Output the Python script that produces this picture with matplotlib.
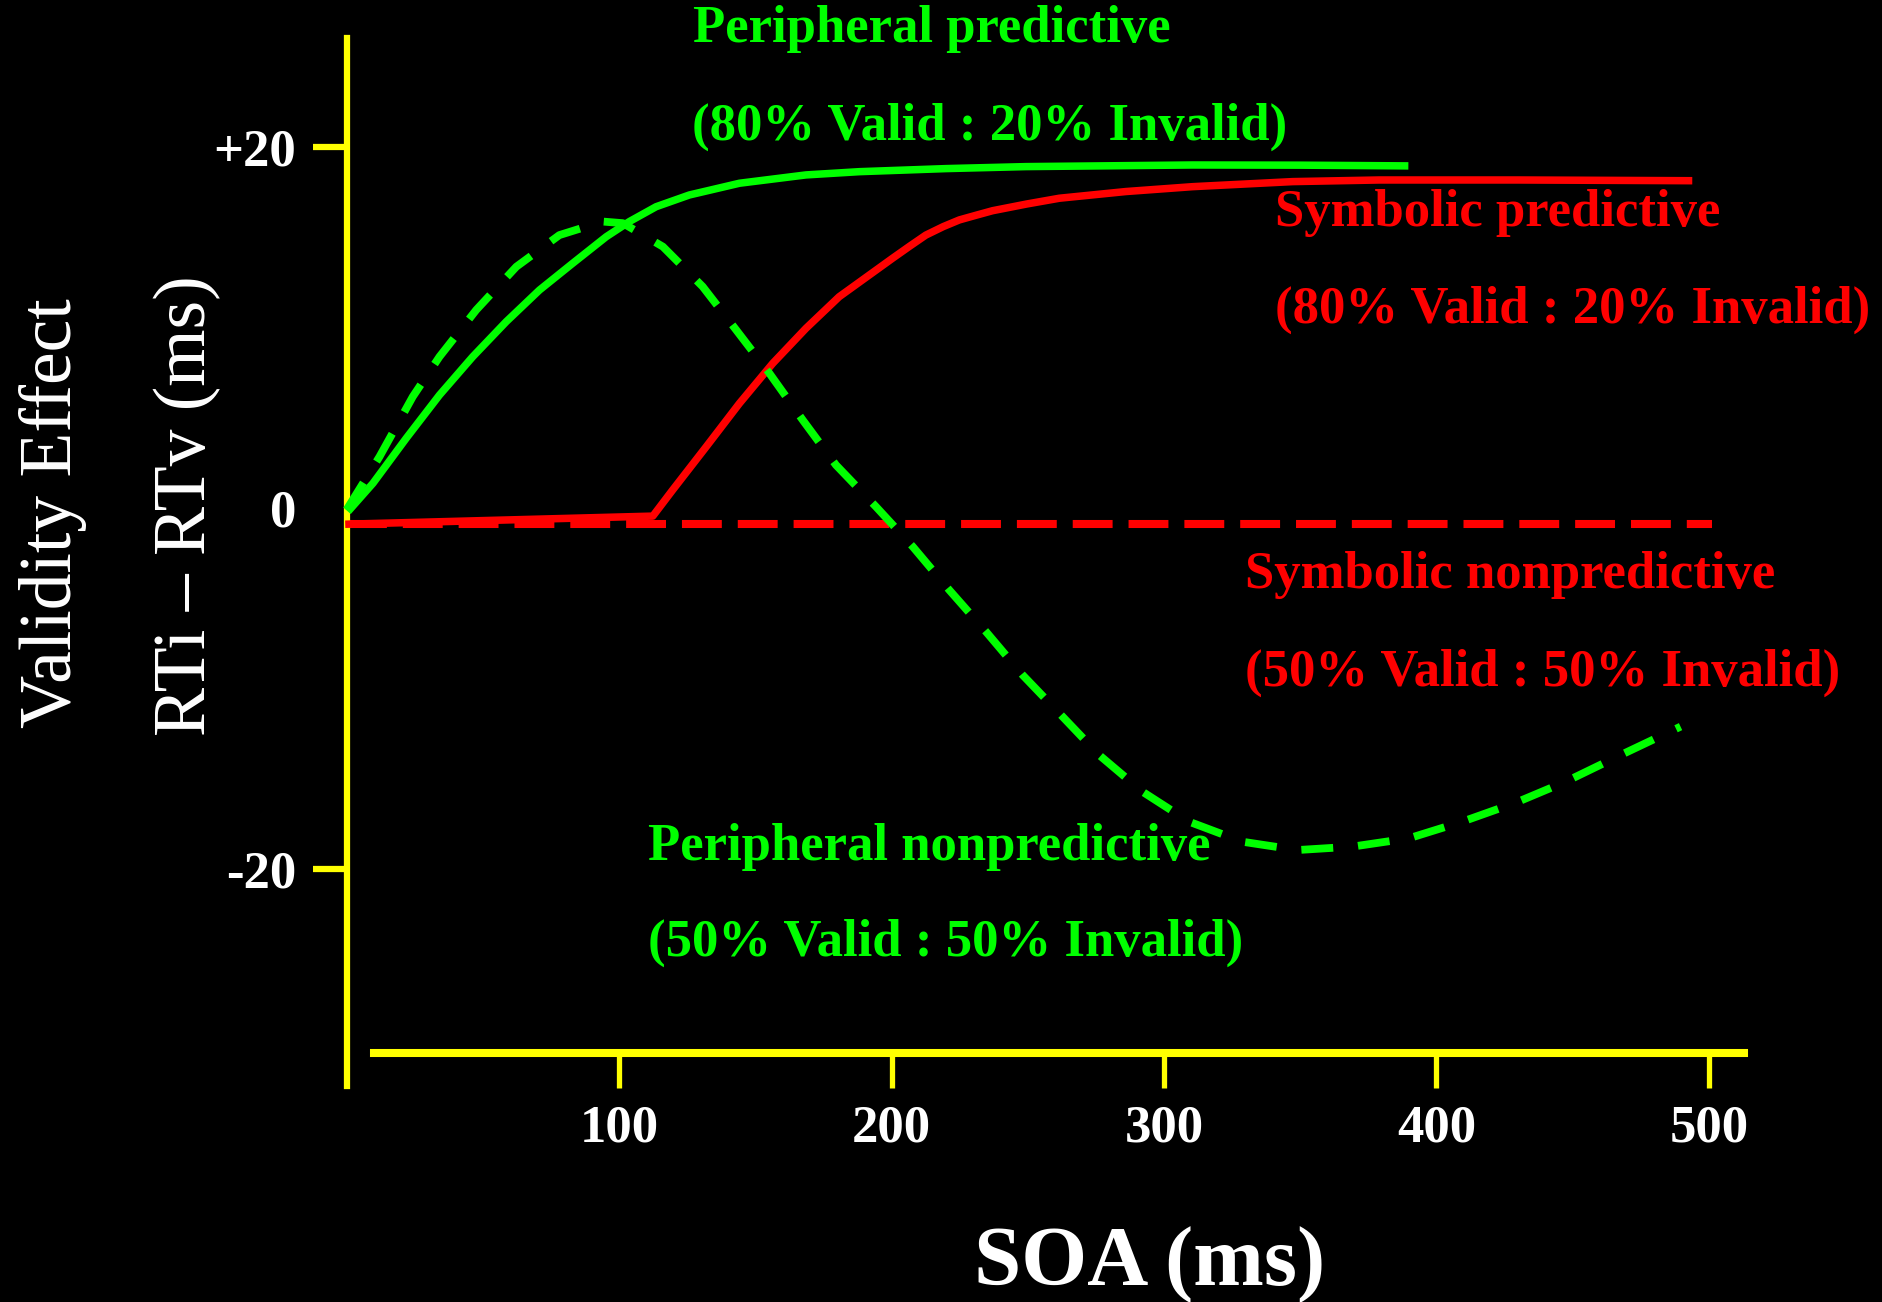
import matplotlib
matplotlib.use("Agg")
import matplotlib.pyplot as plt

# ---------------- data ----------------
periph_pred_x = [0.5, 9.7, 21.9, 34.1, 46.3, 58.6, 70.8, 83.0, 95.3, 103.8, 113.6,
                 125.8, 144.2, 168.6, 188.2, 220.0, 249.3, 310.5, 350.0, 389.7]
periph_pred_y = [-0.2, 1.37, 3.86, 6.25, 8.37, 10.31, 12.06, 13.54, 15.01, 15.85, 16.67,
                 17.32, 17.97, 18.43, 18.61, 18.78, 18.89, 18.98, 18.97, 18.93]

symb_pred_x = [-0.5, 112.4, 119.7, 132.0, 144.2, 156.4, 168.6, 180.8,
               200.4, 206.8, 212.6, 219.0, 224.9, 231.3, 237.1, 249.6, 261.6, 286.0,
               310.5, 347.2, 379.0, 430.0, 493.9]
symb_pred_y = [-0.9, -0.45, 1.0, 3.39, 5.79, 8.0, 9.94, 11.69,
               13.82, 14.5, 15.1, 15.57, 15.94, 16.21, 16.45, 16.82, 17.14, 17.51,
               17.78, 18.06, 18.15, 18.15, 18.11]

symb_nonpred_x = [0.0, 501.0]
symb_nonpred_y = [-0.9, -0.9]

periph_nonpred_x = [0.0, 12.1, 24.3, 34.1, 47.6, 62.3, 78.1, 94.0, 101.4, 116.1, 130.7,
                    143.0, 155.2, 167.4, 179.6, 194.3, 207.8, 221.2, 234.7, 248.1, 262.8,
                    276.2, 292.1, 309.2, 328.8, 349.0, 369.2, 389.9, 409.5, 429.1, 447.4,
                    466.4, 489.6]
periph_nonpred_y = [-0.1, 2.84, 6.16, 8.37, 10.96, 13.35, 15.1, 15.85, 15.76, 14.46, 12.25,
                    9.85, 7.45, 4.87, 2.38, 0.07, -2.14, -4.54, -6.85, -9.24, -11.55,
                    -13.67, -15.7, -17.36, -18.47, -18.93, -18.74, -18.28, -17.36, -16.31,
                    -15.15, -13.76, -12.1]

x_ticks = [100, 200, 300, 400, 500]
x_tick_labels = ["100", "200", "300", "400", "500"]
y_ticks = [-20, 0, 20]
y_tick_labels = ["-20", "0", "+20"]

# ---------------- style ----------------
W, H = 1883, 1302
GREEN = "#00FF00"
RED = "#FF0000"
YELLOW = "#FFFF00"
WHITE = "#FFFFFF"
SERIF = ["Liberation Serif", "DejaVu Serif"]

fig = plt.figure(figsize=(W / 100, H / 100), dpi=100, facecolor="black")
ax = fig.add_axes([0, 0, 1, 1], facecolor="black")
ax.set_xlim(-127.2, 563.9)
ax.set_ylim(-43.94, 28.11)

# curves
ax.plot(symb_nonpred_x, symb_nonpred_y, color=RED, lw=5.8, dashes=(4.95, 1.98), zorder=2)
ax.plot(symb_pred_x, symb_pred_y, color=RED, lw=5.4, solid_capstyle="butt",
        solid_joinstyle="round", zorder=3)
ax.plot(periph_nonpred_x, periph_nonpred_y, color=GREEN, lw=5.6, dashes=(4.1, 3.2), zorder=4)
ax.plot(periph_pred_x, periph_pred_y, color=GREEN, lw=5.4, solid_capstyle="butt",
        solid_joinstyle="round", zorder=5)

# axes
for s in ("top", "right"):
    ax.spines[s].set_visible(False)
ax.spines["left"].set_position(("data", 0))
ax.spines["left"].set_bounds(-32.0, 26.0)
ax.spines["left"].set_color(YELLOW)
ax.spines["left"].set_linewidth(4.5)
ax.spines["bottom"].set_position(("data", -30.16))
ax.spines["bottom"].set_bounds(10.1, 512.8)
ax.spines["bottom"].set_color(YELLOW)
ax.spines["bottom"].set_linewidth(5.8)

ax.set_xticks(x_ticks)
ax.set_xticklabels(x_tick_labels)
ax.set_yticks(y_ticks)
ax.set_yticklabels(y_tick_labels)
ax.tick_params(axis="x", direction="out", length=25, width=3.8, color=YELLOW,
               pad=12, labelcolor=WHITE, labelsize=38)
ax.tick_params(axis="y", direction="out", length=24.5, width=4.5, color=YELLOW,
               pad=12, labelcolor=WHITE, labelsize=38)
ax.yaxis.get_major_ticks()[1].tick1line.set_visible(False)
for lab in ax.get_xticklabels() + ax.get_yticklabels():
    lab.set_fontfamily(SERIF)
    lab.set_fontweight("bold")


def ftext(px, py, s, **kw):
    fig.text(px / W, 1 - py / H, s, **kw)


# axis titles
ftext(1150, 1285, "SOA (ms)", ha="center", va="baseline", color=WHITE,
      fontsize=61, fontweight="bold", family=SERIF)
ftext(70.7, 513, "Validity Effect", ha="center", va="baseline", rotation=90,
      rotation_mode="anchor", color=WHITE, fontsize=53, family=SERIF)
ftext(205, 506, "RTi \u2013 RTv (ms)", ha="center", va="baseline", rotation=90,
      rotation_mode="anchor", color=WHITE, fontsize=53, family=SERIF)

# series annotations
annot = dict(ha="left", va="baseline", fontsize=38, fontweight="bold", family=SERIF)
ftext(693, 42, "Peripheral predictive", color=GREEN, **annot)
ftext(692, 140, "(80% Valid : 20% Invalid)", color=GREEN, **annot)
ftext(1275, 226, "Symbolic predictive", color=RED, **annot)
ftext(1275, 323, "(80% Valid : 20% Invalid)", color=RED, **annot)
ftext(1245, 588, "Symbolic nonpredictive", color=RED, **annot)
ftext(1245, 686, "(50% Valid : 50% Invalid)", color=RED, **annot)
ftext(648, 860, "Peripheral nonpredictive", color=GREEN, **annot)
ftext(648, 956, "(50% Valid : 50% Invalid)", color=GREEN, **annot)

fig.savefig("out.png", dpi=100, facecolor="black")
